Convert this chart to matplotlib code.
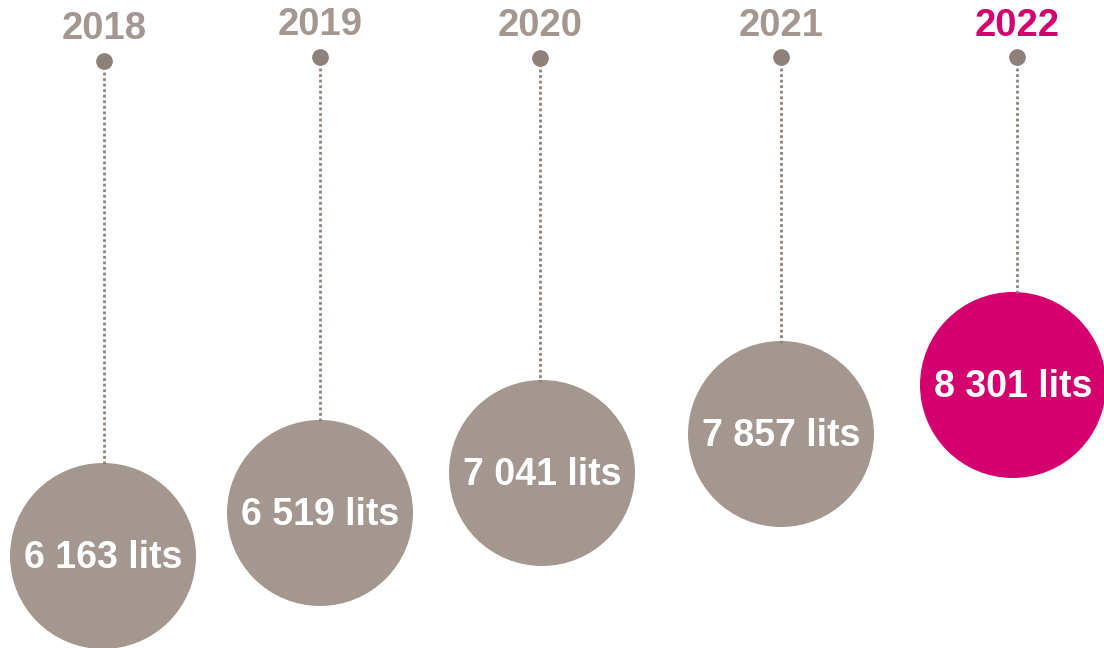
import matplotlib.pyplot as plt
from matplotlib.patches import Circle

# data
years = ["2018", "2019", "2020", "2021", "2022"]
values = [6163, 6519, 7041, 7857, 8301]
highlight = "2022"

# layout (pixels)
x_centers = [103, 320, 542, 781, 1013]
stem_x = [104, 320, 540, 781, 1017]
dot_y = [61, 57, 58, 57, 57]
label_y = [29, 25, 26, 26, 26]
circle_y = [556, 513, 473, 434, 385]
radius = 93

gray = "#A4978F"
dark = "#8E8179"
magenta = "#D4006D"

plt.rcParams['font.family'] = ['Liberation Sans', 'DejaVu Sans']

fig = plt.figure(figsize=(11.04, 6.48), dpi=100)
ax = fig.add_axes([0, 0, 1, 1])
ax.set_xlim(0, 1104)
ax.set_ylim(648, 0)
ax.axis("off")

for i, (yr, val) in enumerate(zip(years, values)):
    x = x_centers[i]
    cy = circle_y[i]
    col = magenta if yr == highlight else gray
    ax.add_patch(Circle((x, cy), radius, color=col, lw=0))
    ax.text(x, cy + 2, "{:,} lits".format(val).replace(",", " "),
            ha="center", va="center", color="white",
            fontsize=27, fontweight="bold")
    # stem from dot to the circle
    ax.plot([stem_x[i], stem_x[i]], [dot_y[i], cy - radius + 2], color=dark,
            lw=2, linestyle=(0, (1, 1)))
    ax.plot(stem_x[i], dot_y[i], "o", color=dark, markersize=11)
    ax.text(stem_x[i], label_y[i], yr, ha="center", va="center", color=col,
            fontsize=27.5, fontweight="bold")

fig.savefig("out.png", dpi=100)
